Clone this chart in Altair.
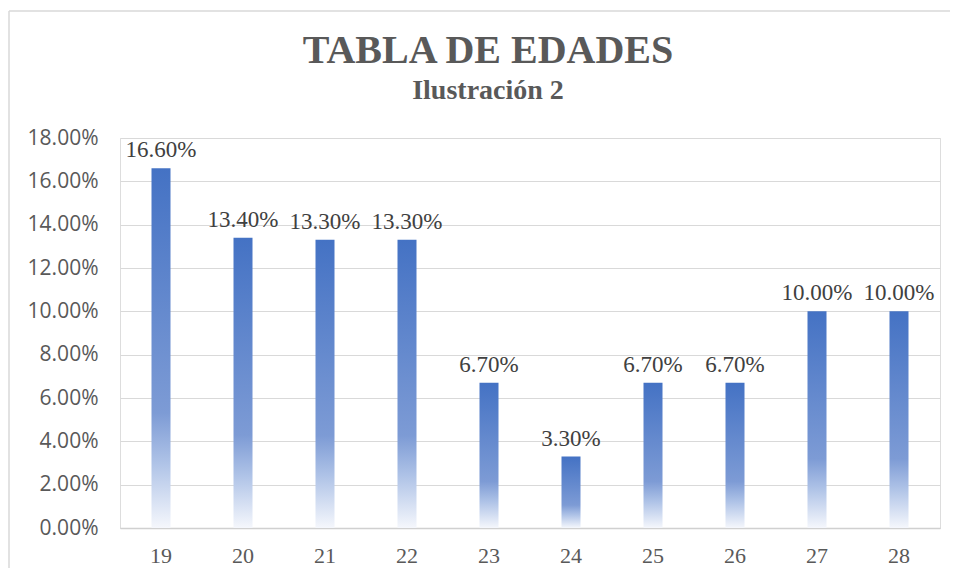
import altair as alt
import pandas as pd

edades = ["19", "20", "21", "22", "23", "24", "25", "26", "27", "28"]
valores = [0.166, 0.134, 0.133, 0.133, 0.067, 0.033, 0.067, 0.067, 0.100, 0.100]
ticks_y = [0.0, 0.02, 0.04, 0.06, 0.08, 0.10, 0.12, 0.14, 0.16, 0.18]

df = pd.DataFrame({"edad": edades, "pct": valores})

gradient = alt.Gradient(
    gradient="linear",
    x1=0, x2=0, y1=0, y2=1,
    stops=[
        alt.GradientStop(color="#4472C4", offset=0),
        alt.GradientStop(color="#7D9BD5", offset=0.68),
        alt.GradientStop(color="#AFC3E7", offset=0.82),
        alt.GradientStop(color="#F5F7FC", offset=1),
    ],
)

x_enc = alt.X(
    "edad:N", sort=None, title=None,
    scale=alt.Scale(paddingInner=0, paddingOuter=0),
    axis=alt.Axis(labelFont="Liberation Serif", labelFontSize=22, labelColor="#595959",
                  labelAngle=0, ticks=False, labelPadding=17, domainColor="#D0D0D0",
                  domainWidth=1.5, grid=False),
)
y_enc = alt.Y(
    "pct:Q", title=None,
    scale=alt.Scale(domain=[0, 0.18], nice=False),
    axis=alt.Axis(values=ticks_y, format=".2%", labelFont="Open Sans", labelFontSize=21,
                  labelColor="#595959", ticks=False, domain=False, labelPadding=22,
                  gridColor="#D9D9D9", gridWidth=1),
)

bars = alt.Chart(df).mark_bar(size=19, color=gradient).encode(x=x_enc, y=y_enc)

labels = alt.Chart(df).mark_text(
    font="Liberation Serif", fontSize=23, color="#404040", baseline="alphabetic", dy=-11
).encode(x=alt.X("edad:N", sort=None), y=alt.Y("pct:Q"), text=alt.Text("pct:Q", format=".2%"))

one = pd.DataFrame({"a": [0]})
frame_top = alt.Chart(one).mark_rule(color="#D9D9D9", strokeWidth=1.5).encode(
    x=alt.value(-111), x2=alt.value(900), y=alt.value(-127)
)
frame_left = alt.Chart(one).mark_rule(color="#D9D9D9", strokeWidth=1.5).encode(
    x=alt.value(-111), y=alt.value(-127), y2=alt.value(500)
)

chart = alt.layer(bars, labels, frame_top, frame_left).properties(
    width=820,
    height=390,
    autosize=alt.AutoSizeParams(type="none"),
    padding={"left": 112, "top": 130, "right": 10, "bottom": 40},
    title=alt.TitleParams(
        text="TABLA DE EDADES",
        subtitle="Ilustración 2",
        font="Liberation Serif", fontSize=40, fontWeight="bold", color="#595959",
        subtitleFont="Liberation Serif", subtitleFontSize=28, subtitleFontWeight="bold",
        subtitleColor="#595959", subtitlePadding=6,
        anchor="middle", frame="group", dx=-42, offset=-95,
    ),
).configure_view(stroke=None).configure(background="white")

chart.save("out.html", embed_options={"renderer": "svg", "actions": False})
